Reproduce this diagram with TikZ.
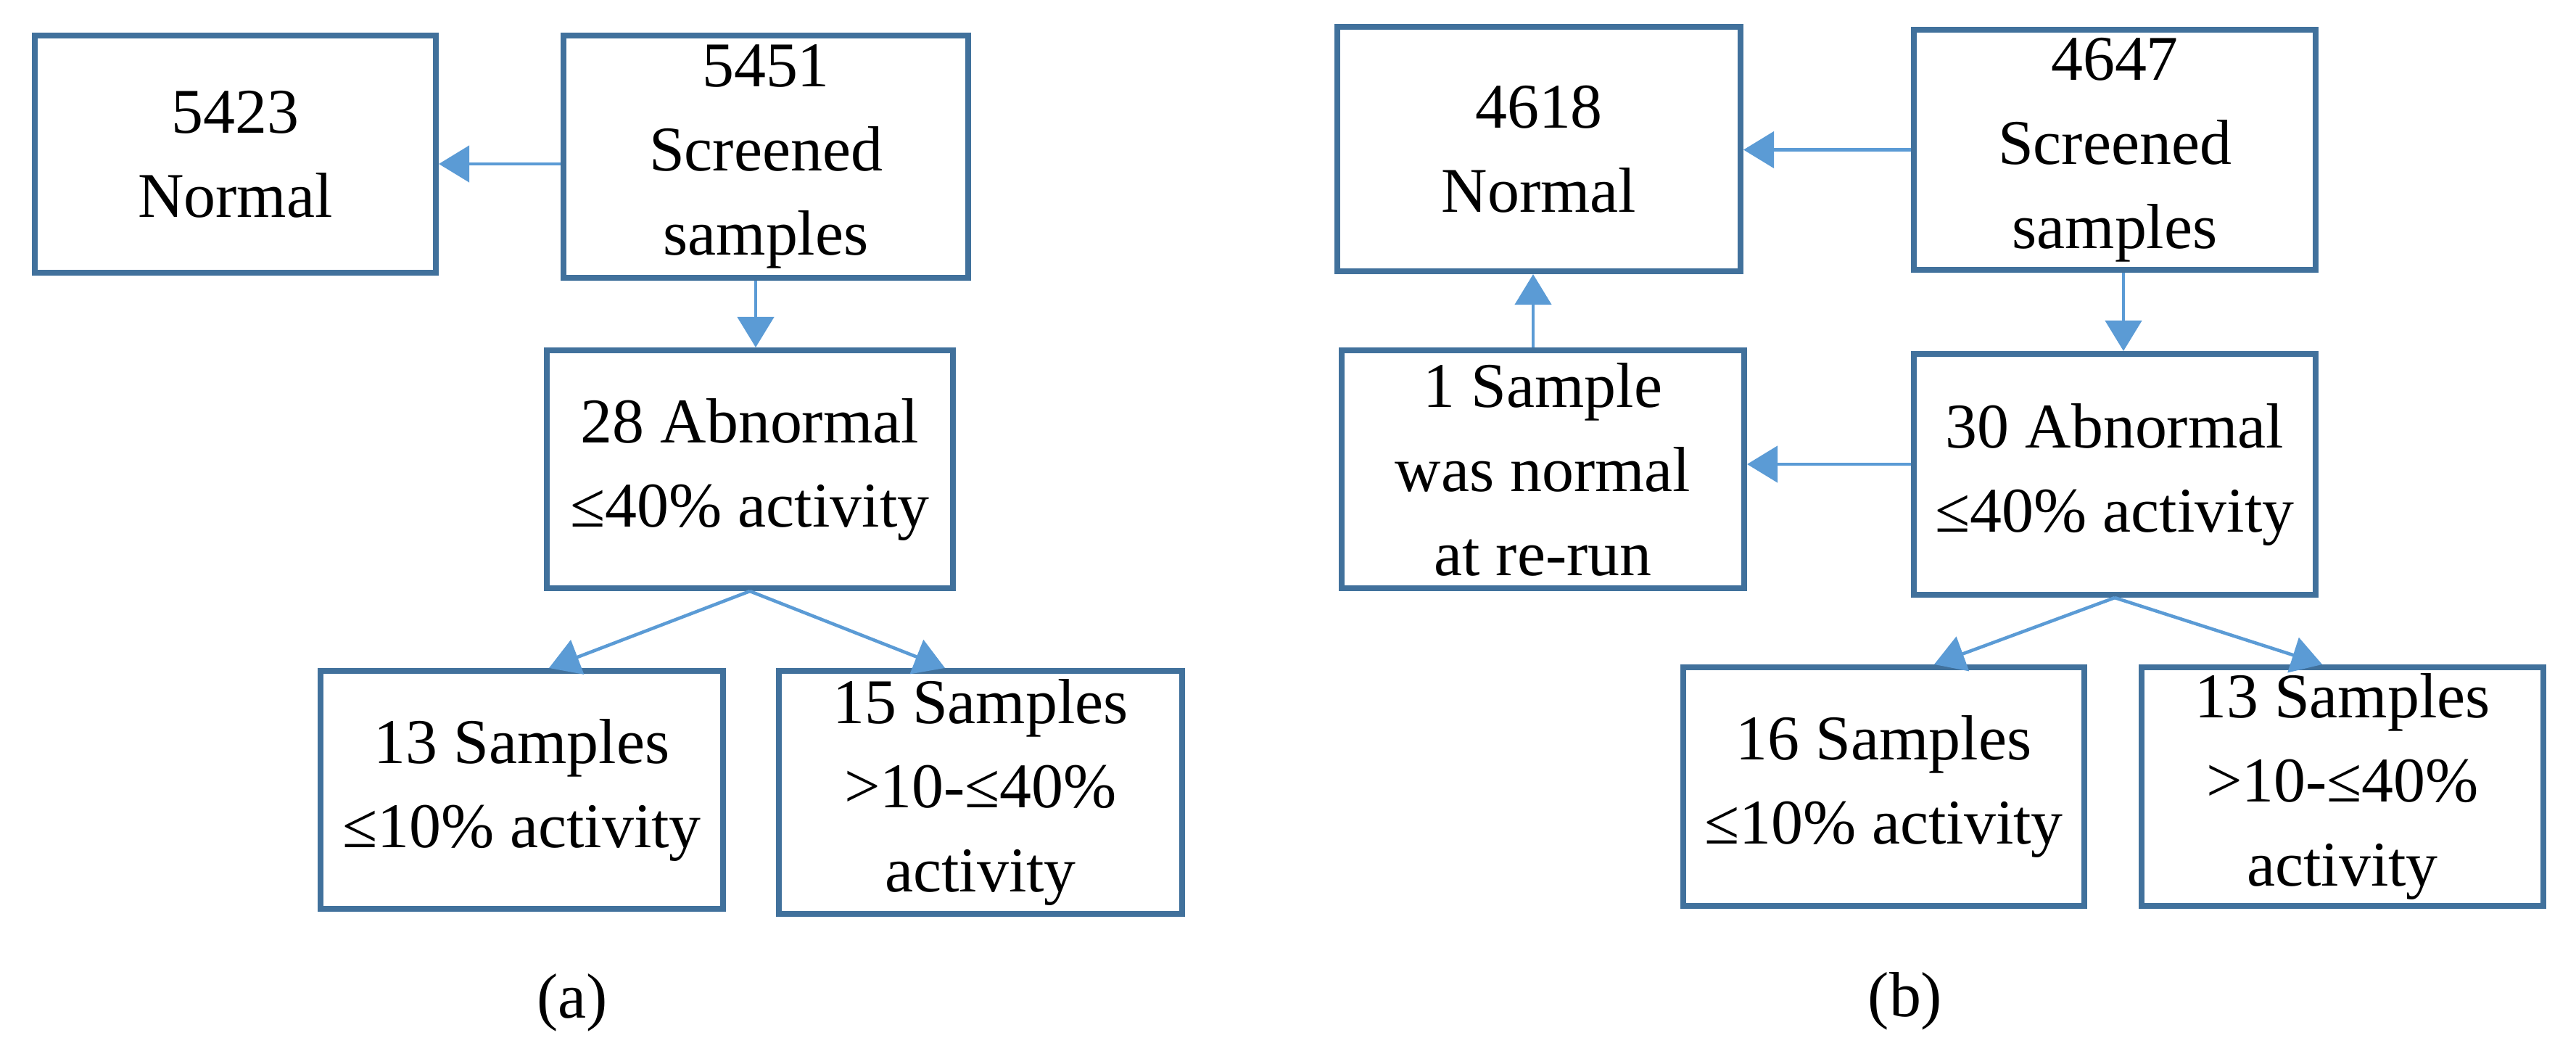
\documentclass[tikz,border=0pt]{standalone}
\usepackage{fontspec}
\setmainfont{Liberation Serif}
\usetikzlibrary{arrows.meta}
\definecolor{boxc}{HTML}{41719C}
\definecolor{arrc}{HTML}{5B9BD5}
\begin{document}
\begin{tikzpicture}[
  box/.style={draw=boxc, line width=2.3pt, align=center, inner sep=0pt,
    font=\fontsize{25}{33}\selectfont},
  arr/.style={draw=arrc, line width=1.3pt, -{Triangle[width=0.5cm,length=0.42cm]}},
  lab/.style={font=\fontsize{25}{33}\selectfont}]
\useasboundingbox (0,0) rectangle (35.52,-14.48);
% (a)
\node[box, minimum width=5.53cm, minimum height=3.27cm] (N1) at (3.245,-2.125) {5423\\Normal};
\node[box, minimum width=5.58cm, minimum height=3.34cm] (S1) at (10.56,-2.16) {5451\\Screened\\samples};
\node[box, minimum width=5.60cm, minimum height=3.28cm] (A1) at (10.34,-6.47) {28 Abnormal\\≤40\% activity};
\node[box, minimum width=5.55cm, minimum height=3.28cm] (L1) at (7.195,-10.89) {13 Samples\\≤10\% activity};
\node[box, minimum width=5.56cm, minimum height=3.35cm] (R1) at (13.52,-10.925) {15 Samples\\>10-≤40\%\\activity};
\node[lab] (la) at (7.89,-13.82) {(a)};
\draw[arr] ([yshift=-0.1cm]S1.west) -- ([yshift=-0.1cm]S1.west -| N1.east);
\draw[arr] ([xshift=-0.14cm]S1.south) -- ([xshift=-0.14cm]S1.south |- A1.north);
\draw[arr] (A1.south) -- ([xshift=0.375cm]L1.north);
\draw[arr] (A1.south) -- ([xshift=-0.49cm]R1.north);
% (b)
\node[box, minimum width=5.56cm, minimum height=3.37cm] (N2) at (21.22,-2.055) {4618\\Normal};
\node[box, minimum width=5.54cm, minimum height=3.31cm] (S2) at (29.16,-2.065) {4647\\Screened\\samples};
\node[box, minimum width=5.55cm, minimum height=3.28cm] (O2) at (21.275,-6.47) {1 Sample\\was normal\\at re-run};
\node[box, minimum width=5.54cm, minimum height=3.32cm] (A2) at (29.16,-6.54) {30 Abnormal\\≤40\% activity};
\node[box, minimum width=5.53cm, minimum height=3.29cm] (L2) at (25.975,-10.845) {16 Samples\\≤10\% activity};
\node[box, minimum width=5.54cm, minimum height=3.29cm] (R2) at (32.30,-10.845) {13 Samples\\>10-≤40\%\\activity};
\node[lab] (lb) at (26.27,-13.80) {(b)};
\draw[arr] (S2.west) -- (S2.west -| N2.east);
\draw[arr] ([xshift=0.12cm]S2.south) -- ([xshift=0.12cm]S2.south |- A2.north);
\draw[arr] ([yshift=0.14cm]A2.west) -- ([yshift=0.14cm]A2.west -| O2.east);
\draw[arr] ([xshift=-0.135cm]O2.north) -- ([xshift=-0.135cm]O2.north |- N2.south);
\draw[arr] (A2.south) -- ([xshift=0.695cm]L2.north);
\draw[arr] (A2.south) -- ([xshift=-0.28cm]R2.north);
\end{tikzpicture}
\end{document}
